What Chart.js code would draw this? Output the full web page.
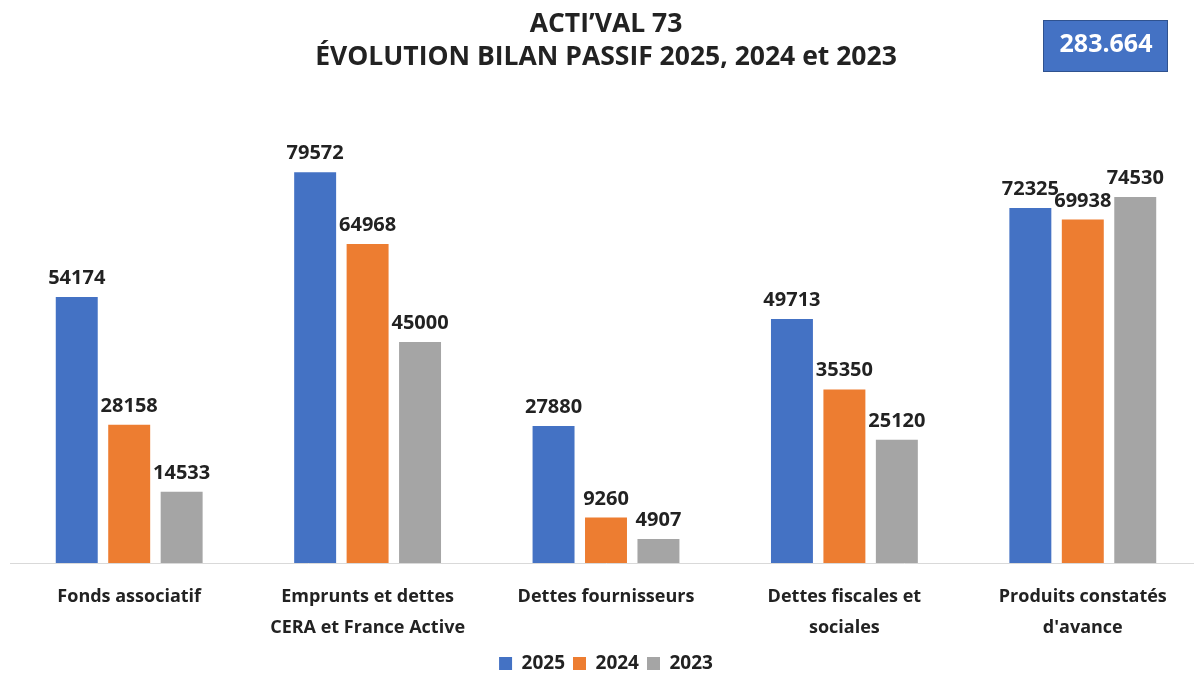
<!DOCTYPE html>
<html>
<head>
<meta charset="utf-8">
<script src="https://cdn.jsdelivr.net/npm/chart.js@4/dist/chart.umd.min.js"></script>
<style>
  html, body { margin: 0; padding: 0; background: #fff; overflow: hidden; }
  #wrap { width: 1212px; height: 673px; position: relative; }
</style>
</head>
<body>
<div id="wrap"><canvas id="chart"></canvas></div>
<script>
// Data
const categories = [
  "Fonds associatif",
  ["Emprunts et dettes", "CERA et France Active"],
  "Dettes fournisseurs",
  ["Dettes fiscales et", "sociales"],
  ["Produits constatés", "d'avance"],
];
const years = ["2025", "2024", "2023"];
const values2025 = [54174, 79572, 27880, 49713, 72325];
const values2024 = [28158, 64968, 9260, 35350, 69938];
const values2023 = [14533, 45000, 4907, 25120, 74530];
const titleLines = ["ACTI\u2019VAL 73", "ÉVOLUTION BILAN PASSIF 2025, 2024 et 2023"];
const totalLabel = "283.664";

const colors = ["#4472C4", "#ED7D31", "#A5A5A5"];
const textColor = "#222222";
const font = "'Open Sans', sans-serif";

// Title, total box and value labels
const decorations = {
  id: "decorations",
  beforeInit(chart) {
    // legend sits closer to the bottom edge than Chart.js default
    const fit = chart.legend.fit;
    chart.legend.fit = function () {
      fit.call(this);
      this.height -= 10;
    };
  },
  afterDatasetsDraw(chart) {
    const { ctx } = chart;
    ctx.save();
    ctx.fillStyle = textColor;
    ctx.textAlign = "center";
    ctx.textBaseline = "alphabetic";
    ctx.font = `bold 20px ${font}`;
    chart.data.datasets.forEach((ds, i) => {
      chart.getDatasetMeta(i).data.forEach((bar, j) => {
        ctx.fillText(String(ds.data[j]), bar.x, bar.y - 13);
      });
    });
    ctx.restore();
  },
  afterDraw(chart) {
    const { ctx, width } = chart;
    ctx.save();
    // title
    ctx.fillStyle = textColor;
    ctx.textAlign = "center";
    ctx.textBaseline = "middle";
    ctx.font = `bold 26.5px ${font}`;
    ctx.fillText(titleLines[0], width / 2, 24);
    ctx.fillText(titleLines[1], width / 2, 57);
    // total box
    ctx.fillStyle = "#4472C4";
    ctx.fillRect(1043, 20, 125, 52);
    ctx.strokeStyle = "#2F528F";
    ctx.lineWidth = 1;
    ctx.strokeRect(1043.5, 20.5, 124, 51);
    ctx.fillStyle = "#ffffff";
    ctx.font = `bold 25px ${font}`;
    ctx.fillText(totalLabel, 1106, 45);
    ctx.restore();
  },
};

new Chart(document.getElementById("chart"), {
  type: "bar",
  data: {
    labels: categories,
    datasets: [
      { label: years[0], data: values2025, backgroundColor: colors[0] },
      { label: years[1], data: values2024, backgroundColor: colors[1] },
      { label: years[2], data: values2023, backgroundColor: colors[2] },
    ],
  },
  options: {
    responsive: true,
    maintainAspectRatio: false,
    animation: false,
    layout: { padding: { top: 72, left: 10, right: 10, bottom: 0 } },
    datasets: {
      bar: { categoryPercentage: 0.66, barPercentage: 0.8 },
    },
    scales: {
      x: {
        grid: { display: false },
        border: { display: true, color: "#D9D9D9", width: 1 },
        ticks: {
          color: textColor,
          font: { family: font, size: 18, weight: "bold", lineHeight: 31 / 18 },
          padding: 10,
          maxRotation: 0,
          autoSkip: false,
        },
        afterFit(scale) {
          scale.height = 83;
        },
      },
      y: {
        display: false,
        min: 0,
        max: 100000,
      },
    },
    plugins: {
      legend: {
        position: "bottom",
        labels: {
          color: textColor,
          font: { family: font, size: 19, weight: "bold" },
          boxWidth: 13,
          boxHeight: 13,
          padding: 8,
        },
      },
      title: { display: false },
      tooltip: { enabled: false },
    },
  },
  plugins: [decorations],
});
</script>
</body>
</html>
